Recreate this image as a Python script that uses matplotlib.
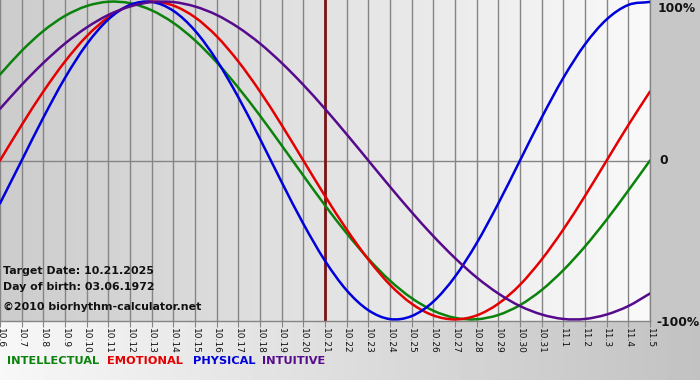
import numpy as np
import matplotlib
matplotlib.use("Agg")
import matplotlib.pyplot as plt
from matplotlib.path import Path
from matplotlib.patches import PathPatch

# ---- data ----
dates = ["10.6", "10.7", "10.8", "10.9", "10.10", "10.11", "10.12", "10.13", "10.14", "10.15",
         "10.16", "10.17", "10.18", "10.19", "10.20", "10.21", "10.22", "10.23", "10.24", "10.25",
         "10.26", "10.27", "10.28", "10.29", "10.30", "10.31", "11.1", "11.2", "11.3", "11.4", "11.5"]

intellectual = [0.541, 0.690, 0.815, 0.910, 0.972, 0.999, 0.990, 0.945, 0.866, 0.756, 0.618, 0.458,
                0.282, 0.095, -0.095, -0.282, -0.458, -0.618, -0.756, -0.866, -0.945, -0.990,
                -0.999, -0.972, -0.910, -0.815, -0.690, -0.541, -0.372, -0.189, 0.000]
emotional = [0.000, 0.223, 0.434, 0.623, 0.782, 0.901, 0.975, 1.000, 0.975, 0.901, 0.782, 0.623,
             0.434, 0.223, 0.000, -0.223, -0.434, -0.623, -0.782, -0.901, -0.975, -1.000,
             -0.975, -0.901, -0.782, -0.623, -0.434, -0.223, 0.000, 0.223, 0.434]
physical = [-0.270, 0.000, 0.270, 0.520, 0.731, 0.888, 0.979, 0.998, 0.942, 0.817, 0.631, 0.398,
            0.136, -0.136, -0.398, -0.631, -0.817, -0.942, -0.998, -0.979, -0.888, -0.731,
            -0.520, -0.270, 0.000, 0.270, 0.520, 0.731, 0.888, 0.979, 0.998]
intuitive = [0.325, 0.476, 0.614, 0.736, 0.837, 0.916, 0.969, 0.997, 0.997, 0.969, 0.916, 0.837,
             0.736, 0.614, 0.476, 0.325, 0.165, 0.000, -0.165, -0.325, -0.476, -0.614,
             -0.736, -0.837, -0.916, -0.969, -0.997, -0.997, -0.969, -0.916, -0.837]

series_names = ["INTELLECTUAL", "EMOTIONAL", "PHYSICAL", "INTUITIVE"]
series_colors = ["#0b820b", "#e40000", "#0000dc", "#560a8c"]
target_date = "10.21"
info_lines = ["Target Date: 10.21.2025", "Day of birth: 03.06.1972", "\u00a92010 biorhythm-calculator.net"]

W, H = 700, 380
fig = plt.figure(figsize=(W / 100, H / 100), dpi=100)

# ---- figure background ----
bg = fig.add_axes([0, 0, 1, 1], zorder=-10)
img = np.ones((H, W)) * 0.78
cols = np.linspace(0.97, 0.76, W)
img[321:, :] = cols[None, :]
bg.imshow(img, cmap="gray", vmin=0, vmax=1, aspect="auto", extent=(0, W, H, 0), interpolation="bilinear")
bg.set_xlim(0, W)
bg.set_ylim(H, 0)
bg.axis("off")

# ---- main plot ----
px = lambda v: v / W
py = lambda v: v / H
ax = fig.add_axes([0, py(H - 321), px(650), py(321)])
x = np.arange(len(dates))
ax.set_xlim(0, len(dates) - 1)
ax.set_ylim(-1.01, 1.01)

grad = np.linspace(0.80, 0.975, 200)[None, :]
ax.imshow(grad, cmap="gray", vmin=0, vmax=1, aspect="auto",
          extent=(0, len(dates) - 1, -1.01, 1.01), interpolation="bilinear", zorder=0)

for xi in x:
    ax.axvline(xi, color="#858585", lw=1.0, zorder=1)
ax.axhline(0, color="#858585", lw=1.0, zorder=1)

ti = dates.index(target_date)
ax.axvline(ti, color="#7a1414", lw=2.0, zorder=2)


def smooth_path(xs, ys):
    """Catmull-Rom curve drawn as cubic Bezier segments through the data points."""
    xs = np.asarray(xs, float)
    ys = np.asarray(ys, float)
    P = np.column_stack([xs, ys])
    n = len(P)
    verts = [P[0]]
    codes = [Path.MOVETO]
    for i in range(n - 1):
        p0 = P[i - 1] if i > 0 else 2 * P[0] - P[1]
        p1 = P[i]
        p2 = P[i + 1]
        p3 = P[i + 2] if i + 2 < n else 2 * P[-1] - P[-2]
        c1 = p1 + (p2 - p0) / 6.0
        c2 = p2 - (p3 - p1) / 6.0
        verts += [c1, c2, p2]
        codes += [Path.CURVE4] * 3
    return Path(verts, codes)


for vals, c in zip([intellectual, emotional, physical, intuitive], series_colors):
    patch = PathPatch(smooth_path(x, vals), facecolor="none", edgecolor=c, lw=1.8,
                      zorder=3, capstyle="round", joinstyle="round")
    ax.add_patch(patch)

for s in ["top", "left"]:
    ax.spines[s].set_visible(False)
for s in ["bottom", "right"]:
    ax.spines[s].set_color("#858585")
    ax.spines[s].set_linewidth(1.0)

ax.set_xticks(x)
ax.set_xticklabels(dates, rotation=-90, fontsize=6.5, color="#111111")
ax.tick_params(axis="x", length=4, color="#858585", pad=1)
ax.set_yticks([])

# right labels
fig.text(px(658), 1 - py(8), "100%", fontsize=8.8, fontweight="bold", va="center", ha="left", color="#111111")
fig.text(px(659), 1 - py(161), "0", fontsize=8.8, fontweight="bold", va="center", ha="left", color="#111111")
fig.text(px(656), 1 - py(322), "-100%", fontsize=8.8, fontweight="bold", va="center", ha="left", color="#111111")

# info text
for yv, t in zip([271, 287, 307], info_lines):
    fig.text(px(3), 1 - py(yv), t, fontsize=7.9, fontweight="bold", va="center", ha="left", color="#111111")

# legend text
for xv, name, c in zip([7, 107, 193, 262], series_names, series_colors):
    fig.text(px(xv), 1 - py(361), name, fontsize=8.2, fontweight="bold", va="center", ha="left", color=c)

fig.savefig("out.png", dpi=100)
